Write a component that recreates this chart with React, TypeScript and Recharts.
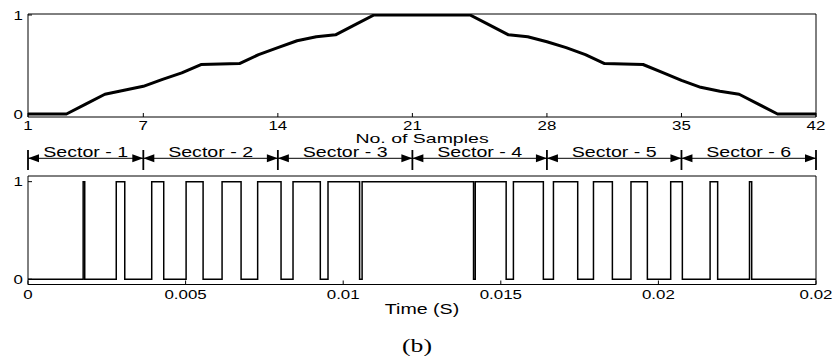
import React from 'react';
import { LineChart, Line, XAxis, YAxis, ReferenceLine } from 'recharts';

// ---------- data ----------
const sampleNumbers = [
  1, 2, 3, 4, 5, 6, 7, 8, 9, 10, 11, 12, 13, 14, 15, 16, 17, 18, 19, 20, 21,
  22, 23, 24, 25, 26, 27, 28, 29, 30, 31, 32, 33, 34, 35, 36, 37, 38, 39, 40, 41, 42,
];
const modulationIndex = [
  0, 0, 0, 0.1, 0.2, 0.24, 0.28, 0.35, 0.415, 0.5, 0.505, 0.51, 0.6, 0.67, 0.74, 0.78, 0.8, 0.9, 1, 1, 1,
  1, 1, 1, 0.9, 0.8, 0.78, 0.73, 0.67, 0.6, 0.51, 0.505, 0.5, 0.42, 0.34, 0.27, 0.23, 0.2, 0.1, 0, 0, 0,
];
const sampleTicks = [1, 7, 14, 21, 28, 35, 42];
const levelTicks = [0, 1];
const levelTickLabels = ['0', '1'];

const sectorBounds = [1, 7, 14, 21, 28, 35, 42];
const sectorNames = ['Sector - 1', 'Sector - 2', 'Sector - 3', 'Sector - 4', 'Sector - 5', 'Sector - 6'];

const pwmTime = [
  0, 0.00175, 0.0018, 0.0028, 0.00307, 0.003925, 0.004306, 0.005016, 0.005555,
  0.006157, 0.00676, 0.007286, 0.008028, 0.008408, 0.009274, 0.009518, 0.01052,
  0.0106, 0.014135, 0.014189, 0.01517, 0.0154, 0.01635, 0.01667, 0.01744, 0.01794,
  0.01854, 0.01913, 0.01965, 0.02039, 0.02076, 0.02164, 0.02188, 0.02289, 0.02296, 0.025,
];
const pwmLevel = [
  0, 1, 0, 1, 0, 1, 0, 1, 0,
  1, 0, 1, 0, 1, 0, 1, 0,
  1, 0, 1, 0, 1, 0, 1, 0, 1,
  0, 1, 0, 1, 0, 1, 0, 1, 0, 0,
];
const timeTicks = [0, 0.005, 0.01, 0.015, 0.02, 0.025];
const timeTickLabels = ['0', '0.005', '0.01', '0.015', '0.02', '0.02'];

// ---------- style constants ----------
const W = 833;
const LEFT = 28;
const RIGHT = 17;
const FONT = '"Liberation Sans", Arial, Helvetica, sans-serif';
const SERIF = '"Liberation Serif", "Times New Roman", serif';
const TICK_SX = 1.3;
const LABEL_SX = 1.4;
const ARROW_LEVEL = 0.585;
const ZERO_MARGIN = { top: 0, right: 0, bottom: 0, left: 0 };

const topData = sampleNumbers.map((s, i) => ({ s, m: modulationIndex[i] }));
const pwmData = pwmTime.map((t, i) => ({ t, v: pwmLevel[i] }));
const sectorData = sectorBounds.map((s) => ({ s }));

type STProps = {
  x: number;
  y: number;
  anchor: 'start' | 'middle' | 'end';
  sx: number;
  size: number;
  dy?: string | number;
  family?: string;
  children: React.ReactNode;
};

function StretchText({ x, y, anchor, sx, size, dy, family, children }: STProps) {
  return (
    <text
      transform={`translate(${x},${y}) scale(${sx},1)`}
      x={0}
      y={0}
      dy={dy}
      textAnchor={anchor}
      fontFamily={family ?? FONT}
      fontSize={size}
      fill="#000"
    >
      {children}
    </text>
  );
}

const xTick = (ticks?: number[], labels?: string[]) => (p: any) => {
  const v = p.payload.value;
  const idx = ticks ? ticks.indexOf(v) : -1;
  const txt = labels && idx >= 0 ? labels[idx] : String(v);
  return (
    <StretchText x={p.x} y={p.y} anchor="middle" sx={TICK_SX} size={13}>
      {txt}
    </StretchText>
  );
};

const yTick = (p: any) => {
  const idx = levelTicks.indexOf(p.payload.value);
  return (
    <StretchText x={p.x} y={p.y} anchor="end" sx={TICK_SX} size={13} dy="0.36em">
      {idx >= 0 ? levelTickLabels[idx] : String(p.payload.value)}
    </StretchText>
  );
};

const axisTitle = (text: string, drop: number, fallbackY: number, size: number, sx: number) => (props: any) => {
  const vb = props && props.viewBox ? props.viewBox : {};
  const x0 = typeof vb.x === 'number' ? vb.x : LEFT;
  const w = typeof vb.width === 'number' ? vb.width : W - LEFT - RIGHT;
  const y0 = typeof vb.y === 'number' ? vb.y : fallbackY;
  return (
    <StretchText x={x0 + w / 2} y={y0 + drop} anchor="middle" sx={sx} size={size}>
      {text}
    </StretchText>
  );
};

const arrowShape = (name: string) => (p: any) => {
  const { x1, x2, y1 } = p;
  const len = 11;
  const half = 4;
  return (
    <g>
      <line x1={x1} y1={y1} x2={x2} y2={y1} stroke="#000" strokeWidth={1} />
      <polygon points={`${x1},${y1} ${x1 + len},${y1 - half} ${x1 + len},${y1 + half}`} fill="#000" />
      <polygon points={`${x2},${y1} ${x2 - len},${y1 - half} ${x2 - len},${y1 + half}`} fill="#000" />
      <StretchText x={(x1 + x2) / 2} y={y1 - 1.4} anchor="middle" sx={LABEL_SX} size={14}>
        {name}
      </StretchText>
    </g>
  );
};

export default function App() {
  return (
    <div
      style={{
        position: 'absolute',
        left: 0,
        top: 0,
        width: W,
        height: 362,
        background: '#fff',
        overflow: 'hidden',
      }}
    >
      <style>{`.recharts-surface{overflow:visible}`}</style>

      {/* Top: modulation index vs. samples */}
      <div style={{ position: 'absolute', left: 0, top: 0 }}>
        <LineChart width={W} height={150} data={topData} margin={ZERO_MARGIN}>
          <XAxis
            xAxisId="top"
            orientation="top"
            type="number"
            dataKey="s"
            domain={[1, 42]}
            ticks={sampleTicks}
            allowDataOverflow
            height={14}
            tickSize={-4}
            tick={false}
            stroke="#000"
            interval={0}
          />
          <XAxis
            type="number"
            dataKey="s"
            domain={[1, 42]}
            ticks={sampleTicks}
            allowDataOverflow
            height={33}
            tickSize={-4}
            tickMargin={17}
            tick={xTick()}
            stroke="#000"
            interval={0}
            label={axisTitle('No. of Samples', 26, 117, 13, 1.5)}
          />
          <YAxis
            type="number"
            domain={[-0.03, 1.01]}
            ticks={levelTicks}
            allowDataOverflow
            width={LEFT}
            tickSize={-4}
            tickMargin={9}
            tick={yTick}
            stroke="#000"
            interval={0}
          />
          <YAxis
            yAxisId="right"
            orientation="right"
            type="number"
            domain={[-0.03, 1.01]}
            ticks={levelTicks}
            allowDataOverflow
            width={RIGHT}
            tickSize={-4}
            tick={false}
            stroke="#000"
            interval={0}
          />
          <Line
            dataKey="m"
            type="linear"
            stroke="#000"
            strokeWidth={3}
            strokeLinejoin="round"
            dot={false}
            isAnimationActive={false}
          />
        </LineChart>
      </div>

      {/* Sector annotation row */}
      <div style={{ position: 'absolute', left: 0, top: 150 }}>
        <LineChart width={W} height={20} data={sectorData} margin={{ top: 0, right: RIGHT, bottom: 0, left: LEFT }}>
          <XAxis type="number" dataKey="s" domain={[1, 42]} allowDataOverflow hide />
          <YAxis type="number" domain={[0, 1]} allowDataOverflow hide />
          {sectorBounds.map((b) => (
            <ReferenceLine key={'b' + b} x={b} stroke="#000" strokeWidth={1.8} />
          ))}
          {sectorNames.map((name, i) => (
            <ReferenceLine
              key={name}
              segment={[
                { x: sectorBounds[i], y: ARROW_LEVEL },
                { x: sectorBounds[i + 1], y: ARROW_LEVEL },
              ]}
              stroke="#000"
              shape={arrowShape(name)}
            />
          ))}
        </LineChart>
      </div>

      {/* Bottom: PWM switching pulse vs. time */}
      <div style={{ position: 'absolute', left: 0, top: 162 }}>
        <LineChart width={W} height={200} data={pwmData} margin={ZERO_MARGIN}>
          <XAxis
            xAxisId="top"
            orientation="top"
            type="number"
            dataKey="t"
            domain={[0, 0.025]}
            ticks={timeTicks}
            allowDataOverflow
            height={14}
            tickSize={-4}
            tick={false}
            stroke="#000"
            interval={0}
          />
          <XAxis
            type="number"
            dataKey="t"
            domain={[0, 0.025]}
            ticks={timeTicks}
            allowDataOverflow
            height={77.5}
            tickSize={-4}
            tickMargin={18}
            tick={xTick(timeTicks, timeTickLabels)}
            stroke="#000"
            interval={0}
            label={axisTitle('Time (S)', 29, 122.5, 14, LABEL_SX)}
          />
          <YAxis
            type="number"
            domain={[-0.054, 1.058]}
            ticks={levelTicks}
            allowDataOverflow
            width={LEFT}
            tickSize={-4}
            tickMargin={9}
            tick={yTick}
            stroke="#000"
            interval={0}
          />
          <YAxis
            yAxisId="right"
            orientation="right"
            type="number"
            domain={[-0.054, 1.058]}
            ticks={levelTicks}
            allowDataOverflow
            width={RIGHT}
            tickSize={-4}
            tick={false}
            stroke="#000"
            interval={0}
          />
          <Line
            dataKey="v"
            type="stepAfter"
            stroke="#000"
            strokeWidth={1.5}
            dot={false}
            isAnimationActive={false}
          />
        </LineChart>
      </div>

      {/* Figure caption */}
      <svg
        width={W}
        height={362}
        style={{ position: 'absolute', left: 0, top: 0, pointerEvents: 'none' }}
      >
        <StretchText x={417} y={352} anchor="middle" sx={1.35} size={19} family={SERIF}>
          (b)
        </StretchText>
      </svg>
    </div>
  );
}
